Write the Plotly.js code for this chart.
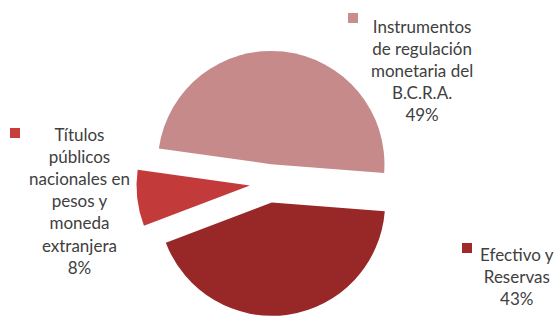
<!DOCTYPE html>
<html>
<head>
<meta charset="utf-8">
<script src="https://cdn.plot.ly/plotly-3.0.1.min.js"></script>
<style>html,body{margin:0;padding:0;background:#fff;overflow:hidden;}#chart{width:557px;height:316px;}</style>
</head>
<body>
<div id="chart"></div>
<script>
// Data
const categories = ["Instrumentos de regulación monetaria del B.C.R.A.", "Títulos públicos nacionales en pesos y moneda extranjera", "Efectivo y Reservas"];
const labelLines = ["Instrumentos<br>de regulación<br>monetaria del<br>B.C.R.A.", "Títulos<br>públicos<br>nacionales en<br>pesos y<br>moneda<br>extranjera", "Efectivo y<br>Reservas"];
const values = [49, 8, 43];
const sliceColors = ["#c68a8a", "#c23a3a", "#982727"];
const keyColors = ["#c88e8e", "#c83c3c", "#a02a2a"];

// Label placement (pixels) : block centre x, top y ; key square centre
const labelPos = [[422, 14], [79, 122], [517, 242]];
const keyPos = [[353, 18], [15, 133], [467, 248]];

const W = 557, H = 316;
const total = values.reduce((a, b) => a + b, 0);

const trace = {
  type: "pie",
  labels: categories,
  values: values,
  sort: false,
  direction: "counterclockwise",
  rotation: -82,
  pull: [0.17, 0.17, 0.17],
  marker: {colors: sliceColors, line: {width: 0}},
  textinfo: "none",
  hoverinfo: "label+percent",
  showlegend: false,
  domain: {x: [0.238, 0.728], y: [0, 0.8393]}
};

const annotations = [];
const shapes = [];
for (let i = 0; i < categories.length; i++) {
  const pct = Math.round(values[i] / total * 100) + "%";
  annotations.push({
    xref: "paper", yref: "paper",
    x: labelPos[i][0] / W, y: 1 - labelPos[i][1] / H,
    xanchor: "center", yanchor: "top",
    text: labelLines[i] + "<br>" + pct,
    showarrow: false, align: "center",
    font: {family: "Lato, 'Open Sans', sans-serif", size: 17, color: "#404040"}
  });
  const s = 5;
  shapes.push({
    type: "rect", xref: "paper", yref: "paper",
    x0: (keyPos[i][0] - s) / W, x1: (keyPos[i][0] + s) / W,
    y0: 1 - (keyPos[i][1] + s) / H, y1: 1 - (keyPos[i][1] - s) / H,
    fillcolor: keyColors[i], line: {width: 0}
  });
}

const layout = {
  width: W, height: H,
  margin: {l: 0, r: 0, t: 0, b: 0},
  paper_bgcolor: "#ffffff",
  plot_bgcolor: "#ffffff",
  annotations: annotations,
  shapes: shapes
};

Plotly.newPlot("chart", [trace], layout, {displayModeBar: false, staticPlot: true});
</script>
</body>
</html>
